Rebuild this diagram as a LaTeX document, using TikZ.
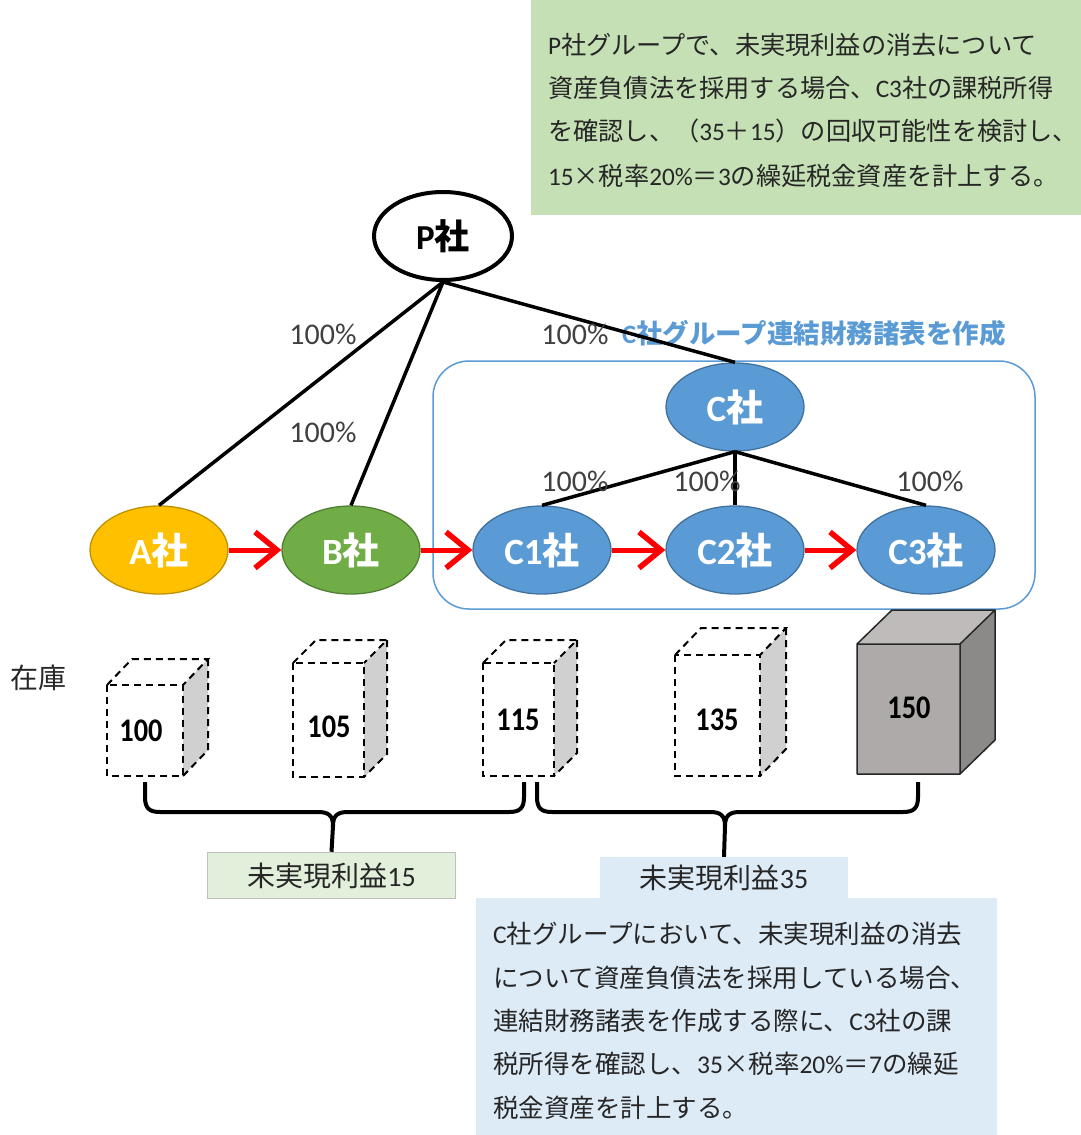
\documentclass[tikz,border=0pt]{standalone}
\usepackage{fontspec}
\usepackage{graphicx}
\setmainfont{Noto Sans CJK JP}
\newfontfamily\lat{Carlito}
\usetikzlibrary{shapes.geometric,arrows.meta}
\definecolor{txt}{HTML}{262626}
\definecolor{pct}{HTML}{404040}
\definecolor{gbox}{HTML}{C5E0B4}
\definecolor{lgbox}{HTML}{E2EFDA}
\definecolor{lbbox}{HTML}{DDEBF7}
\definecolor{afill}{HTML}{FFC000}
\definecolor{aline}{HTML}{BF9000}
\definecolor{bfill}{HTML}{70AD47}
\definecolor{bline}{HTML}{507E32}
\definecolor{cfill}{HTML}{5B9BD5}
\definecolor{cline}{HTML}{41719C}
\definecolor{cubeside}{HTML}{D0D0D0}
\definecolor{sfront}{HTML}{AEAAAA}
\definecolor{stop}{HTML}{BFBBBB}
\definecolor{sright}{HTML}{8C8989}
\newcommand\dashcube[6]{%
  \fill[cubeside] (#3,#2) -- (#3+#5,#2-#6) -- (#3+#5,#4-#6) -- (#3,#4) -- cycle;
  \draw[cubedash] (#1,#2) rectangle (#3,#4);
  \draw[cubedash] (#1,#2) -- (#1+#5,#2-#6) -- (#3+#5,#2-#6) -- (#3,#2);
  \draw[cubedash] (#3+#5,#2-#6) -- (#3+#5,#4-#6) -- (#3,#4);
}
\begin{document}
\begin{tikzpicture}[x=1pt,y=-1pt,
  co/.style={ellipse, minimum width=138pt, minimum height=88pt, inner sep=0pt,
    line width=1.3pt, text=white, font=\fontsize{37}{42}\selectfont\bfseries},
  conn/.style={line width=3.5pt, black},
  redarr/.style={line width=5pt, red, -{Straight Barb[length=22pt,width=36pt,line width=5.5pt]}},
  pctlab/.style={text=pct, font=\lat\fontsize{30}{34}\selectfont, inner sep=0pt},
  body/.style={anchor=base west, inner sep=0pt, text=txt, font=\fontsize{25.5}{30}\selectfont},
  cubedash/.style={line width=2pt, dash pattern=on 7pt off 5pt, black},
  cubenum/.style={inner sep=0pt, font=\lat\bfseries\fontsize{33}{36}\selectfont},
  brace/.style={line width=4pt, black, line join=round}]
\useasboundingbox (0,0) rectangle (1081,1135);

% top explanation box
\fill[gbox] (531,0) rectangle (1081,215);
\begin{scope}[body/.append style={font=\fontsize{25.2}{30}\selectfont}]
\node[body] (t1) at (548,54) {{\lat P}社グループで、未実現利益の消去について};
\node[body] (t2) at (548,97) {資産負債法を採用する場合、{\lat C3}社の課税所得};
\node[body] (t3) at (548,140) {を確認し、（{\lat 35}＋{\lat 15}）の回収可能性を検討し、};
\node[body] (t4) at (548,185) {{\lat 15}×税率{\lat 20\%}＝{\lat 3}の繰延税金資産を計上する。};
\end{scope}

% C group frame
\draw[cfill, line width=1.5pt, rounded corners=36pt] (433,361) rectangle (1035,609);
\node[anchor=base west, inner sep=0pt, text=cfill, font=\fontsize{26.5}{32}\selectfont\bfseries] (title) at (622,343) {{\lat C}社グループ連結財務諸表を作成};

% company nodes
\node[co, draw=black, line width=4pt, text=black, font=\fontsize{35}{40}\selectfont\bfseries] (P) at (443,236) {{\lat P}社};
\node[co, fill=afill, draw=aline] (A) at (159,550) {{\lat A}社};
\node[co, fill=bfill, draw=bline] (B) at (351,550) {{\lat B}社};
\node[co, fill=cfill, draw=cline] (C) at (735,407) {{\lat C}社};
\node[co, fill=cfill, draw=cline] (C1) at (542,550) {{\lat C1}社};
\node[co, fill=cfill, draw=cline] (C2) at (735,550) {{\lat C2}社};
\node[co, fill=cfill, draw=cline] (C3) at (926,550) {{\lat C3}社};

% ownership lines
\draw[conn] (P.south) -- (A.north);
\draw[conn] (P.south) -- (B.north);
\draw[conn] (P.south) -- (C.north);
\draw[conn] (C.south) -- (C1.north);
\draw[conn] (C.south) -- (C2.north);
\draw[conn] (C.south) -- (C3.north);

\node[pctlab] (pA) at (323,334) {100\%};
\node[pctlab] (pB) at (323,432) {100\%};
\node[pctlab] (pC) at (575,334) {100\%};
\node[pctlab] (pC1) at (575,481) {100\%};
\node[pctlab] (pC2) at (707,481) {100\%};
\node[pctlab] (pC3) at (930,481) {100\%};

% sales arrows
\draw[redarr] (A) -- (B);
\draw[redarr] (B) -- (C1);
\draw[redarr] (C1) -- (C2);
\draw[redarr] (C2) -- (C3);

% inventory
\node[inner sep=0pt, text=txt, font=\fontsize{28}{32}\selectfont] (inv) at (38,678) {在庫};
\dashcube{107}{685}{183}{776}{25}{26}
\dashcube{293}{663}{364}{777}{23}{23}
\dashcube{483}{663}{554}{776}{23}{23}
\dashcube{675}{655}{760}{776}{26}{27}
\fill[sright] (960,644) -- (995,610) -- (995,740) -- (960,774) -- cycle;
\fill[stop] (857,644) -- (892,610) -- (995,610) -- (960,644) -- cycle;
\fill[sfront] (857,644) rectangle (960,774);
\draw[line width=1.5pt, txt, line join=round] (857,644) rectangle (960,774)
  (857,644) -- (892,610) -- (995,610) -- (960,644)
  (995,610) -- (995,740) -- (960,774);
\node[cubenum] (n100) at (141,731) {\scalebox{0.86}[1]{100}};
\node[cubenum] (n105) at (329,727) {\scalebox{0.86}[1]{105}};
\node[cubenum] (n115) at (518,720) {\scalebox{0.86}[1]{115}};
\node[cubenum] (n135) at (717,720) {\scalebox{0.86}[1]{135}};
\node[cubenum] (n150) at (909,708) {\scalebox{0.86}[1]{150}};

% unrealised profit boxes
\fill[lbbox] (476,898) rectangle (997,1135);
\node[fill=lbbox, minimum width=248pt, minimum height=42pt, inner sep=0pt, text=txt,
  font=\fontsize{28}{32}\selectfont] (u35) at (724,878) {未実現利益{\lat 35}};
\node[fill=lgbox, draw=black!25, line width=1.5pt, minimum width=248pt, minimum height=46pt,
  inner sep=0pt, text=txt, font=\fontsize{28}{32}\selectfont] (u15) at (331.5,875.5) {未実現利益{\lat 15}};

% braces
\draw[brace] (145,782) -- (145,797) .. controls (145,808) and (149,812) .. (160,812)
  -- (318,812) .. controls (328,812) and (333,815) .. (333,826) -- (u15.north);
\draw[brace] (524,782) -- (524,797) .. controls (524,808) and (520,812) .. (509,812)
  -- (348,812) .. controls (338,812) and (333,815) .. (333,826);
\draw[brace] (537,782) -- (537,797) .. controls (537,808) and (541,812) .. (552,812)
  -- (710,812) .. controls (720,812) and (725,815) .. (725,826) -- (u35.north);
\draw[brace] (918,782) -- (918,797) .. controls (918,808) and (914,812) .. (903,812)
  -- (740,812) .. controls (730,812) and (725,815) .. (725,826);

% bottom explanation
\node[body] (b1) at (493,943) {{\lat C}社グループにおいて、未実現利益の消去};
\node[body] (b2) at (493,987) {について資産負債法を採用している場合、};
\node[body] (b3) at (493,1030) {連結財務諸表を作成する際に、{\lat C3}社の課};
\node[body] (b4) at (493,1073) {税所得を確認し、{\lat 35}×税率{\lat 20\%}＝{\lat 7}の繰延};
\node[body] (b5) at (493,1117) {税金資産を計上する。};
\end{tikzpicture}
\end{document}
